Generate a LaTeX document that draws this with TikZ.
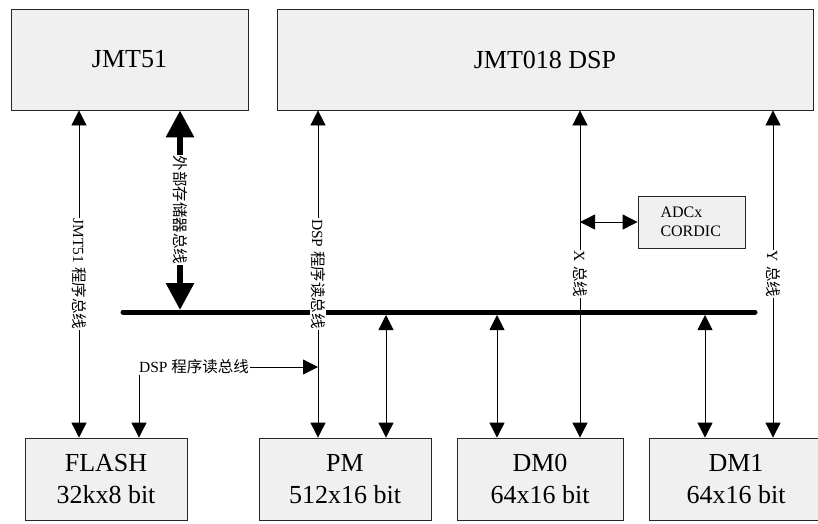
\documentclass[tikz,border=0pt]{standalone}
\usepackage{fontspec}
\setmainfont{Liberation Serif}
\newfontfamily\cjk{Noto Sans CJK SC}
\usetikzlibrary{arrows.meta,calc}
\definecolor{boxfill}{RGB}{240,240,240}
\begin{document}
\begin{tikzpicture}[x=1pt,y=-1pt,
  box/.style={draw=black!85, fill=boxfill, line width=0.8pt, inner sep=0pt},
  big/.style={font=\fontsize{26}{32}\selectfont},
  mid/.style={font=\fontsize{16}{19}\selectfont},
  vlbl/.style={rotate=-90, fill=white, inner sep=1pt, font=\fontsize{15.5}{18}\selectfont},
  slbl/.style={fill=white, inner sep=1pt, font=\fontsize{15.5}{18}\selectfont},
  arr/.style={line width=0.8pt, {Triangle[width=15pt,length=15pt]}-{Triangle[width=15pt,length=15pt]}},
  arrto/.style={line width=0.8pt, -{Triangle[width=15pt,length=15pt]}},
  fatarr/.style={line width=6pt, {Triangle[width=27pt,length=27pt]}-{Triangle[width=27pt,length=27pt]}},
  bus/.style={line width=5pt, line cap=round}
]
\useasboundingbox (0,0) rectangle (818,523);
\clip (0,0) rectangle (818,523);

% boxes
\node[box,big,minimum width=237pt,minimum height=101pt] (jmt51) at (129.5,59.5) {JMT51};
\node[box,big,minimum width=536pt,minimum height=101pt] (dsp) at (545,59.5) {JMT018 DSP};
\node[box,big,align=center,minimum width=162pt,minimum height=82pt] (flash) at (106,479) {FLASH\\32kx8 bit};
\node[box,big,align=center,minimum width=172pt,minimum height=82pt] (pm) at (345,479) {PM\\512x16 bit};
\node[box,big,align=center,minimum width=166pt,minimum height=82pt] (dm0) at (540,479) {DM0\\64x16 bit};
\node[box,big,align=center,minimum width=174pt,minimum height=82pt] (dm1) at (736,479) {DM1\\64x16 bit};
\node[box,mid,align=left,text width=62pt,minimum width=107pt,minimum height=52pt] (adc) at (691.5,222) {ADCx\\CORDIC};

% x positions of the vertical connectors
\coordinate (xj) at (79,0);
\coordinate (xe) at (180,0);
\coordinate (xf) at (139,0);
\coordinate (xd) at (318,0);
\coordinate (xp) at (386,0);
\coordinate (x0) at (497,0);
\coordinate (xx) at (580,0);
\coordinate (x1) at (705,0);
\coordinate (xy) at (773,0);

% internal bus
\coordinate (busL) at (123,312);
\coordinate (busR) at (755,312);
\draw[bus] (busL) -- (busR);

% JMT51 program bus
\draw[arr] (jmt51.south -| xj) -- node[vlbl] {JMT51 {\cjk 程序总线}} (flash.north -| xj);

% external memory bus
\draw[fatarr] (jmt51.south -| xe) -- node[vlbl] {\cjk 外部存储器总线} ($(busL -| xe)+(0,-2)$);

% DSP program read bus
\draw[arr] (dsp.south -| xd) -- node[vlbl] {DSP {\cjk 程序读总线}} (pm.north -| xd);
\node[slbl] (dsplbl) at (194,367) {DSP {\cjk 程序读总线}};
\draw[arrto] (dsplbl.east) -- (dsplbl.east -| xd);
\draw[arrto] (dsplbl.south -| xf) -- (flash.north -| xf);

% bus to memories
\draw[arr] ($(busL -| xp)+(0,3)$) -- (pm.north -| xp);
\draw[arr] ($(busL -| x0)+(0,3)$) -- (dm0.north -| x0);
\draw[arr] ($(busL -| x1)+(0,3)$) -- (dm1.north -| x1);

% X bus
\draw[arr] (dsp.south -| xx) -- node[vlbl] {X {\cjk 总线}} (dm0.north -| xx);
\draw[arr] (adc.west -| xx) -- (adc.west);

% Y bus
\draw[arr] (dsp.south -| xy) -- node[vlbl] {Y {\cjk 总线}} (dm1.north -| xy);
\end{tikzpicture}
\end{document}
